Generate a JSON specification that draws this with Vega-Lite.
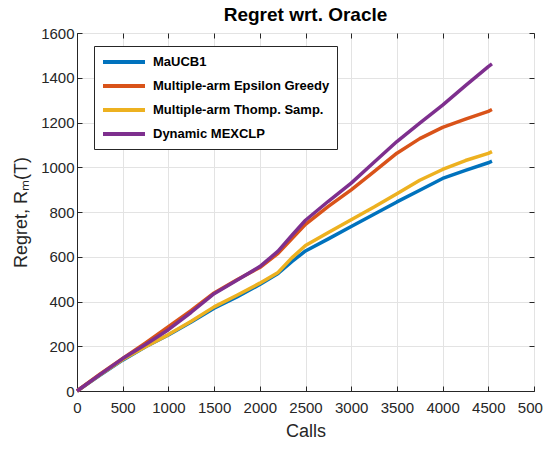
{
  "$schema": "https://vega.github.io/schema/vega-lite/v6.json",
  "width": 457,
  "height": 358,
  "autosize": {"type": "none"},
  "padding": {"left": 77, "top": 33, "right": 9, "bottom": 59},
  "background": "white",
  "title": {"text": "Regret wrt. Oracle", "font": "Liberation Sans", "fontSize": 19, "fontWeight": "bold", "color": "#000000", "offset": 1},
  "config": {
    "view": {"stroke": "#262626", "strokeWidth": 1},
    "axis": {"labelFont": "Liberation Sans", "titleFont": "Liberation Sans", "labelFontSize": 15, "titleFontSize": 18, "titleFontWeight": "normal", "labelColor": "#262626", "titleColor": "#262626", "domainColor": "#262626", "tickColor": "#262626", "gridColor": "#e3e3e3", "gridOpacity": 1, "tickSize": -5, "labelOverlap": false, "labelFlush": false, "format": "d"}
  },
  "data": {"values": [
    {"c": 0, "r": 0, "s": "MaUCB1"},
    {"c": 250, "r": 70, "s": "MaUCB1"},
    {"c": 500, "r": 138, "s": "MaUCB1"},
    {"c": 750, "r": 198, "s": "MaUCB1"},
    {"c": 1000, "r": 250, "s": "MaUCB1"},
    {"c": 1250, "r": 308, "s": "MaUCB1"},
    {"c": 1500, "r": 370, "s": "MaUCB1"},
    {"c": 1750, "r": 420, "s": "MaUCB1"},
    {"c": 2000, "r": 476, "s": "MaUCB1"},
    {"c": 2200, "r": 525, "s": "MaUCB1"},
    {"c": 2350, "r": 578, "s": "MaUCB1"},
    {"c": 2500, "r": 626, "s": "MaUCB1"},
    {"c": 2750, "r": 680, "s": "MaUCB1"},
    {"c": 3000, "r": 735, "s": "MaUCB1"},
    {"c": 3250, "r": 790, "s": "MaUCB1"},
    {"c": 3500, "r": 845, "s": "MaUCB1"},
    {"c": 3750, "r": 897, "s": "MaUCB1"},
    {"c": 4000, "r": 950, "s": "MaUCB1"},
    {"c": 4250, "r": 986, "s": "MaUCB1"},
    {"c": 4500, "r": 1020, "s": "MaUCB1"},
    {"c": 4540, "r": 1027, "s": "MaUCB1"},
    {"c": 0, "r": 0, "s": "Multiple-arm Thomp. Samp."},
    {"c": 250, "r": 72, "s": "Multiple-arm Thomp. Samp."},
    {"c": 500, "r": 141, "s": "Multiple-arm Thomp. Samp."},
    {"c": 750, "r": 198, "s": "Multiple-arm Thomp. Samp."},
    {"c": 1000, "r": 252, "s": "Multiple-arm Thomp. Samp."},
    {"c": 1250, "r": 312, "s": "Multiple-arm Thomp. Samp."},
    {"c": 1500, "r": 376, "s": "Multiple-arm Thomp. Samp."},
    {"c": 1750, "r": 428, "s": "Multiple-arm Thomp. Samp."},
    {"c": 2000, "r": 482, "s": "Multiple-arm Thomp. Samp."},
    {"c": 2200, "r": 530, "s": "Multiple-arm Thomp. Samp."},
    {"c": 2350, "r": 595, "s": "Multiple-arm Thomp. Samp."},
    {"c": 2500, "r": 650, "s": "Multiple-arm Thomp. Samp."},
    {"c": 2750, "r": 708, "s": "Multiple-arm Thomp. Samp."},
    {"c": 3000, "r": 765, "s": "Multiple-arm Thomp. Samp."},
    {"c": 3250, "r": 822, "s": "Multiple-arm Thomp. Samp."},
    {"c": 3500, "r": 882, "s": "Multiple-arm Thomp. Samp."},
    {"c": 3750, "r": 942, "s": "Multiple-arm Thomp. Samp."},
    {"c": 4000, "r": 990, "s": "Multiple-arm Thomp. Samp."},
    {"c": 4250, "r": 1030, "s": "Multiple-arm Thomp. Samp."},
    {"c": 4500, "r": 1062, "s": "Multiple-arm Thomp. Samp."},
    {"c": 4540, "r": 1070, "s": "Multiple-arm Thomp. Samp."},
    {"c": 0, "r": 0, "s": "Multiple-arm Epsilon Greedy"},
    {"c": 250, "r": 75, "s": "Multiple-arm Epsilon Greedy"},
    {"c": 500, "r": 146, "s": "Multiple-arm Epsilon Greedy"},
    {"c": 750, "r": 215, "s": "Multiple-arm Epsilon Greedy"},
    {"c": 1000, "r": 287, "s": "Multiple-arm Epsilon Greedy"},
    {"c": 1250, "r": 360, "s": "Multiple-arm Epsilon Greedy"},
    {"c": 1500, "r": 438, "s": "Multiple-arm Epsilon Greedy"},
    {"c": 1750, "r": 497, "s": "Multiple-arm Epsilon Greedy"},
    {"c": 2000, "r": 552, "s": "Multiple-arm Epsilon Greedy"},
    {"c": 2200, "r": 615, "s": "Multiple-arm Epsilon Greedy"},
    {"c": 2350, "r": 680, "s": "Multiple-arm Epsilon Greedy"},
    {"c": 2500, "r": 745, "s": "Multiple-arm Epsilon Greedy"},
    {"c": 2750, "r": 825, "s": "Multiple-arm Epsilon Greedy"},
    {"c": 3000, "r": 899, "s": "Multiple-arm Epsilon Greedy"},
    {"c": 3250, "r": 980, "s": "Multiple-arm Epsilon Greedy"},
    {"c": 3500, "r": 1063, "s": "Multiple-arm Epsilon Greedy"},
    {"c": 3750, "r": 1128, "s": "Multiple-arm Epsilon Greedy"},
    {"c": 4000, "r": 1178, "s": "Multiple-arm Epsilon Greedy"},
    {"c": 4250, "r": 1215, "s": "Multiple-arm Epsilon Greedy"},
    {"c": 4500, "r": 1250, "s": "Multiple-arm Epsilon Greedy"},
    {"c": 4540, "r": 1258, "s": "Multiple-arm Epsilon Greedy"},
    {"c": 0, "r": 0, "s": "Dynamic MEXCLP"},
    {"c": 250, "r": 73, "s": "Dynamic MEXCLP"},
    {"c": 500, "r": 145, "s": "Dynamic MEXCLP"},
    {"c": 750, "r": 208, "s": "Dynamic MEXCLP"},
    {"c": 1000, "r": 274, "s": "Dynamic MEXCLP"},
    {"c": 1250, "r": 352, "s": "Dynamic MEXCLP"},
    {"c": 1500, "r": 435, "s": "Dynamic MEXCLP"},
    {"c": 1750, "r": 495, "s": "Dynamic MEXCLP"},
    {"c": 2000, "r": 556, "s": "Dynamic MEXCLP"},
    {"c": 2200, "r": 625, "s": "Dynamic MEXCLP"},
    {"c": 2350, "r": 695, "s": "Dynamic MEXCLP"},
    {"c": 2500, "r": 763, "s": "Dynamic MEXCLP"},
    {"c": 2750, "r": 848, "s": "Dynamic MEXCLP"},
    {"c": 3000, "r": 929, "s": "Dynamic MEXCLP"},
    {"c": 3250, "r": 1022, "s": "Dynamic MEXCLP"},
    {"c": 3500, "r": 1115, "s": "Dynamic MEXCLP"},
    {"c": 3750, "r": 1197, "s": "Dynamic MEXCLP"},
    {"c": 4000, "r": 1278, "s": "Dynamic MEXCLP"},
    {"c": 4250, "r": 1365, "s": "Dynamic MEXCLP"},
    {"c": 4500, "r": 1450, "s": "Dynamic MEXCLP"},
    {"c": 4540, "r": 1462, "s": "Dynamic MEXCLP"}
  ]},
  "layer": [
    {
      "mark": {"type": "line", "strokeWidth": 3.5, "strokeJoin": "round", "strokeCap": "butt"},
      "encoding": {
        "x": {"field": "c", "type": "quantitative", "scale": {"domain": [0, 5000], "nice": false}, "axis": {"title": "Calls", "values": [0,500,1000,1500,2000,2500,3000,3500,4000,4500,5000], "labelPadding": 14, "titlePadding": 7}},
        "y": {"field": "r", "type": "quantitative", "scale": {"domain": [0, 1600], "nice": false}, "axis": {"title": "Regret, Rₘ(T)", "values": [0,200,400,600,800,1000,1200,1400,1600], "labelPadding": 8, "titlePadding": 10}},
        "color": {"field": "s", "type": "nominal", "sort": null,
          "scale": {"domain": ["MaUCB1", "Multiple-arm Epsilon Greedy", "Multiple-arm Thomp. Samp.", "Dynamic MEXCLP"], "range": ["#0072BD", "#D95319", "#EDB120", "#7E2F8E"]},
          "legend": {"title": null, "orient": "none", "legendX": 17, "legendY": 13, "symbolType": "M-3,0H3", "symbolSize": 196, "symbolOffset": 14, "symbolStrokeWidth": 4, "symbolFillColor": "transparent", "labelFont": "Liberation Sans", "labelFontSize": 13, "labelFontWeight": "bold", "labelColor": "#000000", "strokeColor": "#262626", "fillColor": "white", "padding": 7, "rowPadding": 7, "labelOffset": 20, "labelLimit": 300}
        }
      }
    },
    {
      "mark": {"type": "point", "opacity": 0},
      "encoding": {
        "x": {"field": "c", "type": "quantitative", "scale": {"domain": [0, 5000], "nice": false}, "axis": {"orient": "top", "labels": false, "title": null, "grid": false, "domain": false, "values": [0,500,1000,1500,2000,2500,3000,3500,4000,4500,5000]}},
        "y": {"field": "r", "type": "quantitative", "scale": {"domain": [0, 1600], "nice": false}, "axis": {"orient": "right", "labels": false, "title": null, "grid": false, "domain": false, "values": [0,200,400,600,800,1000,1200,1400,1600]}}
      }
    }
  ],
  "resolve": {"axis": {"x": "independent", "y": "independent"}}
}
